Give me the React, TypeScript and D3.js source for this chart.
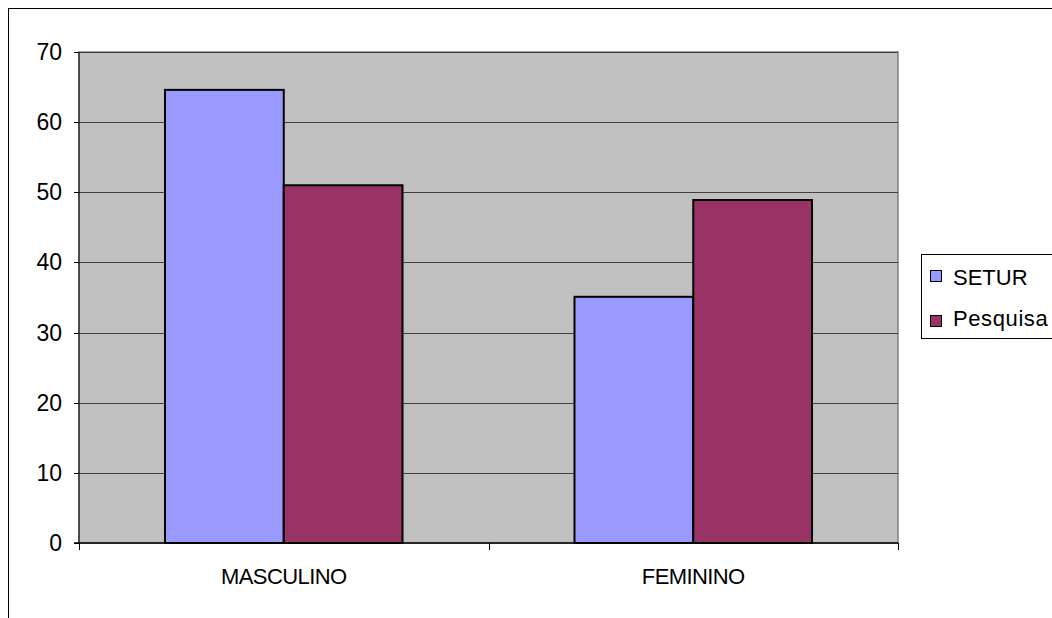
import React from "react";
import * as d3 from "d3";

const categories = ["MASCULINO", "FEMININO"];
const seriesNames = ["SETUR", "Pesquisa"];
const setur = [64.6, 35.1];
const pesquisa = [51.0, 48.9];
const yTicks = [0, 10, 20, 30, 40, 50, 60, 70];
const colors = ["#9999FF", "#993366"];

const values = [setur, pesquisa];

export default function App() {
  const left = 79, right = 898, top = 52, bottom = 543;
  const font = "'Liberation Sans', Arial, sans-serif";
  const y = d3.scaleLinear().domain([0, 70]).range([bottom, top]);
  const x0 = d3.scaleBand<string>().domain(categories).range([left, right]).padding(0);
  const bw = x0.bandwidth();
  const gap = bw * 0.21;
  const x1 = d3.scaleBand<string>().domain(seriesNames).range([gap, bw - gap]).padding(0);

  return (
    <svg
      width={1052}
      height={618}
      style={{ position: "fixed", left: 0, top: 0, background: "#fff" }}
    >
      <rect x={8.5} y={8.5} width={1100} height={700} fill="#fff" stroke="#000" strokeWidth={1} />
      <rect x={left} y={top} width={right - left} height={bottom - top} fill="#C0C0C0" stroke="#808080" strokeWidth={1.5} />
      {yTicks.filter((t) => t > 0).map((t) => (
        <line key={"g" + t} x1={left} x2={right} y1={Math.round(y(t)) + 0.5} y2={Math.round(y(t)) + 0.5} stroke="#404040" strokeWidth={1} />
      ))}
      {categories.map((c, ci) =>
        seriesNames.map((s, si) => {
          const v = values[si][ci];
          return (
            <rect
              key={c + s}
              x={(x0(c) as number) + (x1(s) as number)}
              y={y(v)}
              width={x1.bandwidth()}
              height={y(0) - y(v)}
              fill={colors[si]}
              stroke="#000"
              strokeWidth={2}
            />
          );
        })
      )}
      <line x1={left} x2={left} y1={top} y2={bottom} stroke="#000" strokeWidth={1} />
      <line x1={left - 5} x2={right} y1={bottom} y2={bottom} stroke="#000" strokeWidth={1.5} />
      {yTicks.map((t) => (
        <g key={"t" + t}>
          <line x1={left - 5} x2={left} y1={Math.round(y(t)) + 0.5} y2={Math.round(y(t)) + 0.5} stroke="#000" />
          <text x={62} y={y(t) + 8} textAnchor="end" fontFamily={font} fontSize={23} fill="#000">
            {t}
          </text>
        </g>
      ))}
      {[...categories.map((c) => x0(c) as number), right].map((xv, i) => (
        <line key={"xt" + i} x1={Math.round(xv) + 0.5} x2={Math.round(xv) + 0.5} y1={bottom} y2={bottom + 7} stroke="#000" />
      ))}
      {categories.map((c) => (
        <text
          key={"l" + c}
          x={(x0(c) as number) + bw / 2}
          y={584}
          textAnchor="middle"
          fontFamily={font}
          fontSize={22}
          letterSpacing={-0.6}
          fill="#000"
        >
          {c}
        </text>
      ))}
      <rect x={921.5} y={254.5} width={200} height={84} fill="#fff" stroke="#000" strokeWidth={1} />
      {seriesNames.map((s, i) => (
        <g key={"lg" + s}>
          <rect x={930.5} y={270.5 + i * 45} width={11} height={11} fill={colors[i]} stroke="#000" strokeWidth={1} />
          <text x={953} y={285 + i * 41} fontFamily={font} fontSize={22} letterSpacing={i === 1 ? 0.6 : 0} fill="#000">
            {s}
          </text>
        </g>
      ))}
    </svg>
  );
}
